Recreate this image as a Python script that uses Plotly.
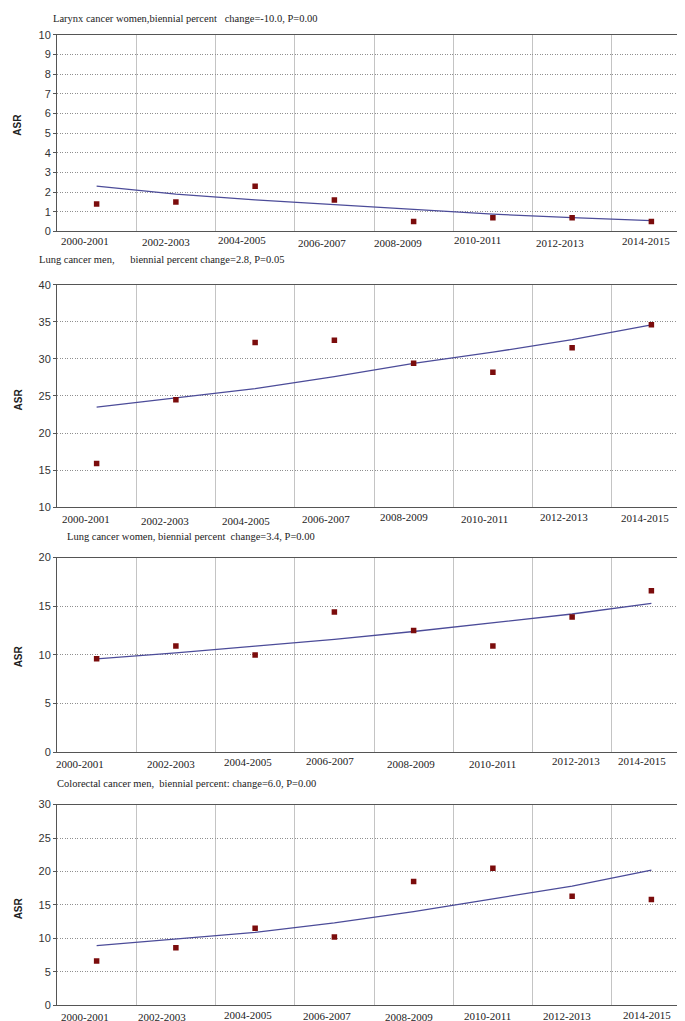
import plotly.graph_objects as go

periods = ["2000-2001", "2002-2003", "2004-2005", "2006-2007",
           "2008-2009", "2010-2011", "2012-2013", "2014-2015"]

larynx_women = [1.4, 1.5, 2.3, 1.6, 0.5, 0.7, 0.7, 0.5]
larynx_women_trend = [2.3, 1.9, 1.6, 1.35, 1.1, 0.88, 0.7, 0.55]

lung_men = [15.9, 24.5, 32.2, 32.5, 29.4, 28.2, 31.5, 34.6]
lung_men_trend = [23.5, 24.7, 26.0, 27.6, 29.4, 30.9, 32.6, 34.6]

lung_women = [9.6, 10.9, 10.0, 14.4, 12.5, 10.9, 13.9, 16.6]
lung_women_trend = [9.6, 10.2, 10.9, 11.6, 12.4, 13.3, 14.2, 15.3]

colorectal_men = [6.6, 8.6, 11.5, 10.2, 18.5, 20.5, 16.3, 15.8]
colorectal_men_trend = [8.9, 9.9, 10.9, 12.3, 14.0, 15.9, 17.8, 20.2]

titles = [
    "Larynx cancer women,biennial percent\u00a0\u00a0\u00a0change=-10.0, P=0.00",
    "Lung cancer men,\u00a0\u00a0\u00a0\u00a0\u00a0\u00a0biennial percent change=2.8, P=0.05",
    "Lung cancer women, biennial percent\u00a0\u00a0change=3.4, P=0.00",
    "Colorectal cancer men,\u00a0\u00a0biennial percent: change=6.0, P=0.00",
]
panels = [
    (larynx_women, larynx_women_trend, [0, 10], 1),
    (lung_men, lung_men_trend, [10, 40], 5),
    (lung_women, lung_women_trend, [0, 20], 5),
    (colorectal_men, colorectal_men_trend, [0, 30], 5),
]

# ---- layout / style (pixels) ----
H = 1021.0
W = 685.0
boxes = [(21, 220), (274, 499), (550, 747), (800, 1003)]
title_pos = [(43, 5), (29, 248), (57, 529), (47, 779)]
asr_y = [112, 390, 650, 905]
# staggered x-label placement: horizontal shift (px) and vertical centre (px)
label_dx = [
    [-12, -10, -13, -12, -16, -15, -12, -5],
    [-11, -11, -9, -8, -10, -8, -8, -6],
    [-17, -5, -7, -4, -3, 0, 4, -9],
    [-12, -14, -7, -7, -5, -5, -5, -4],
]
label_y = [
    [230, 231, 229, 231.5, 231.5, 229, 231.5, 230],
    [510.5, 513.5, 513.5, 510.5, 509, 510.5, 509, 510],
    [758.5, 759, 757, 755.5, 758.5, 759, 755.5, 755.5],
    [1015, 1015, 1013, 1014, 1015, 1014, 1014, 1012.5],
]

fig = go.Figure()
xs = list(range(len(periods)))

for i, (pts, trend, yr, dt) in enumerate(panels):
    n = i + 1
    xa = "x" if n == 1 else f"x{n}"
    ya = "y" if n == 1 else f"y{n}"
    fig.add_trace(go.Scatter(x=xs, y=trend, mode="lines", xaxis=xa, yaxis=ya,
                             line=dict(color="#4c4c99", width=1.3),
                             showlegend=False, hoverinfo="skip"))
    fig.add_trace(go.Scatter(x=xs, y=pts, mode="markers", xaxis=xa, yaxis=ya,
                             marker=dict(symbol="square", size=5.5, color="#7b0c0c",
                                         line=dict(width=0)),
                             showlegend=False))
    top, bot = boxes[i]
    dom = [1 - bot / H, 1 - top / H]
    xkey = "xaxis" if n == 1 else f"xaxis{n}"
    ykey = "yaxis" if n == 1 else f"yaxis{n}"
    fig.update_layout(**{
        xkey: dict(domain=[49 / W, 683 / W], anchor=ya, range=[-0.5, 7.5],
                   tickvals=xs, showticklabels=False, showgrid=False,
                   showline=True, linecolor="#555", linewidth=1, mirror=True,
                   ticks="", zeroline=False,
                   minor=dict(tick0=0.5, dtick=1, showgrid=True,
                              gridcolor="#c4c4c4", gridwidth=1, ticks="")),
        ykey: dict(domain=dom, anchor=xa, range=yr, dtick=dt, tick0=0,
                   showgrid=True, gridcolor="#8f8f8f", griddash="1px,1.5px", gridwidth=1,
                   tickfont=dict(family="Liberation Sans", size=11, color="#333"),
                   showline=True, linecolor="#555", linewidth=1, mirror=True,
                   ticks="outside", ticklen=3, tickcolor="#555", zeroline=False),
    })
    for j, lab in enumerate(periods):
        fig.add_annotation(x=xs[j], xref=xa, y=1 - label_y[i][j] / H, yref="paper",
                           xanchor="center", yanchor="middle", showarrow=False,
                           xshift=label_dx[i][j], text=lab,
                           font=dict(family="Liberation Serif", size=11, color="#222"))
    tx, ty = title_pos[i]
    fig.add_annotation(x=tx / W, y=1 - ty / H, xref="paper", yref="paper",
                       xanchor="left", yanchor="middle", showarrow=False,
                       text=titles[i],
                       font=dict(family="Liberation Serif", size=10.5, color="#222"))
    fig.add_annotation(x=10 / W, y=1 - asr_y[i] / H, xref="paper", yref="paper",
                       xanchor="center", yanchor="middle", showarrow=False,
                       text="<b>ASR</b>", textangle=-90,
                       font=dict(family="Liberation Sans", size=10, color="#222"))

fig.update_layout(width=685, height=1021, margin=dict(l=0, r=0, t=0, b=0),
                  paper_bgcolor="white", plot_bgcolor="white", showlegend=False)

fig.write_html("out.html")
